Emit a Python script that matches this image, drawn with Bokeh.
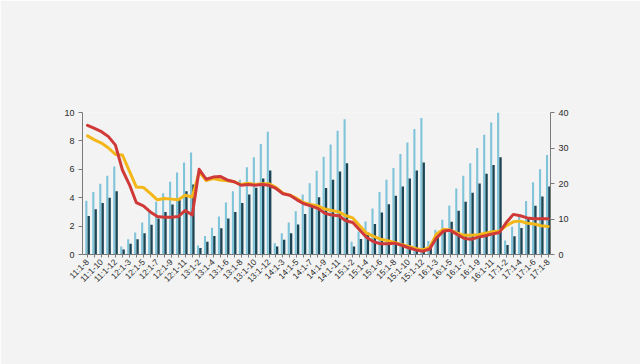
import numpy as np
from math import pi
from bokeh.plotting import figure
from bokeh.models import Range1d, LinearAxis, FixedTicker
from bokeh.embed import file_html
from bokeh.resources import INLINE

labels = [
    "11:1-8", "11:1-9", "11:1-10", "11:1-11", "11:1-12",
    "12:1-2", "12:1-3", "12:1-4", "12:1-5", "12:1-6", "12:1-7", "12:1-8", "12:1-9", "12:1-10", "12:1-11", "12:1-12",
    "13:1-2", "13:1-3", "13:1-4", "13:1-5", "13:1-6", "13:1-7", "13:1-8", "13:1-9", "13:1-10", "13:1-11", "13:1-12",
    "14:1-2", "14:1-3", "14:1-4", "14:1-5", "14:1-6", "14:1-7", "14:1-8", "14:1-9", "14:1-10", "14:1-11", "14:1-12",
    "15:1-2", "15:1-3", "15:1-4", "15:1-5", "15:1-6", "15:1-7", "15:1-8", "15:1-9", "15:1-10", "15:1-11", "15:1-12",
    "16:1-2", "16:1-3", "16:1-4", "16:1-5", "16:1-6", "16:1-7", "16:1-8", "16:1-9", "16:1-10", "16:1-11", "16:1-12",
    "17:1-2", "17:1-3", "17:1-4", "17:1-5", "17:1-6", "17:1-7", "17:1-8",
]

total_inv = [
    3.78, 4.41, 4.98, 5.54, 6.20,
    0.56, 1.08, 1.55, 2.25, 3.00, 3.71, 4.32, 5.12, 5.77, 6.48, 7.18,
    0.63, 1.31, 1.88, 2.68, 3.66, 4.46, 5.26, 6.15, 6.85, 7.79, 8.64,
    0.80, 1.50, 2.25, 3.05, 4.23, 5.02, 5.89, 6.88, 7.75, 8.71, 9.53,
    0.89, 1.62, 2.33, 3.24, 4.41, 5.26, 6.10, 7.07, 7.89, 8.83, 9.62,
    0.95, 1.75, 2.45, 3.45, 4.65, 5.55, 6.43, 7.50, 8.43, 9.30, 10.05,
    0.98, 1.95, 2.75, 3.77, 5.08, 6.00, 7.00,
]

resid_inv = [
    2.72, 3.19, 3.62, 3.99, 4.46,
    0.35, 0.75, 1.08, 1.50, 2.10, 2.54, 3.00, 3.52, 3.85, 4.46, 4.93,
    0.46, 0.89, 1.31, 1.85, 2.54, 3.00, 3.62, 4.23, 4.70, 5.35, 5.92,
    0.56, 1.03, 1.50, 2.11, 2.86, 3.43, 4.04, 4.69, 5.26, 5.85, 6.43,
    0.56, 1.10, 1.55, 2.14, 2.96, 3.54, 4.13, 4.79, 5.35, 5.92, 6.48,
    0.60, 1.18, 1.62, 2.30, 3.08, 3.72, 4.34, 5.00, 5.68, 6.30, 6.85,
    0.67, 1.29, 1.87, 2.50, 3.44, 4.08, 4.78,
]

total_growth = [
    33.4, 32.3, 31.4, 30.0, 28.2,
    28.0, 23.5, 19.0, 18.9, 17.2, 15.4, 15.8, 15.6, 15.4, 16.7, 16.2,
    23.3, 20.8, 21.4, 21.0, 20.8, 20.5, 19.7, 20.1, 19.7, 19.9, 19.9,
    18.9, 17.3, 16.7, 15.8, 14.6, 14.1, 13.7, 12.8, 12.4, 12.0, 10.9,
    10.3, 8.1, 6.0, 5.1, 4.3, 3.9, 3.4, 2.8, 2.3, 1.7, 1.3,
    2.0, 5.8, 7.1, 6.9, 6.0, 5.4, 5.4, 5.6, 6.0, 6.4, 6.6,
    8.1, 9.2, 9.4, 8.8, 8.6, 8.1, 7.9,
]

resid_growth = [
    36.4, 35.5, 34.6, 33.2, 30.8,
    23.8, 19.7, 14.6, 13.7, 12.0, 10.7, 10.5, 10.5, 10.7, 12.4, 11.1,
    24.0, 21.2, 21.8, 22.0, 21.0, 20.5, 19.5, 19.7, 19.5, 19.7, 19.5,
    18.6, 17.1, 16.7, 15.4, 14.3, 13.7, 13.0, 11.6, 11.1, 10.9, 9.5,
    9.0, 6.9, 4.8, 3.6, 3.0, 3.0, 3.2, 2.6, 1.9, 1.3, 0.9,
    1.5, 4.7, 6.6, 6.8, 5.6, 4.5, 4.3, 4.9, 5.3, 5.8, 6.2,
    9.0, 11.3, 10.9, 10.3, 10.1, 10.1, 10.1,
]

left_ticks = [0, 2, 4, 6, 8, 10]
right_ticks = [0, 10, 20, 30, 40]

x = np.arange(len(labels))
BG = "#f3f3f3"
AXIS = "#7a7a7a"
TXT = "#2a2a2a"
FONT = "Liberation Sans"

p = figure(width=640, height=364, output_backend="svg", toolbar_location=None,
           x_range=Range1d(-0.72, 66.33), y_range=Range1d(0, 10),
           min_border_left=82, min_border_right=90, min_border_top=112,
           min_border_bottom=110, y_axis_location=None)
p.extra_y_ranges = {"pct": Range1d(0, 40)}
p.background_fill_color = BG
p.border_fill_color = BG
p.outline_line_color = None
p.xgrid.visible = False
p.ygrid.visible = False

p.vbar(x=x - 0.17, top=total_inv, width=0.30, fill_color="#7fc4d9", line_color=None)
p.vbar(x=x + 0.17, top=resid_inv, width=0.34, fill_color="#1b4555", line_color=None)
p.line(x, total_growth, y_range_name="pct", line_color="#f4b71a", line_width=3,
       line_join="round", line_cap="round")
p.line(x, resid_growth, y_range_name="pct", line_color="#cf3a38", line_width=3,
       line_join="round", line_cap="round")

left = LinearAxis(ticker=FixedTicker(ticks=left_ticks))
right = LinearAxis(y_range_name="pct", ticker=FixedTicker(ticks=right_ticks))
for ax in (left, right):
    ax.axis_line_color = AXIS
    ax.major_tick_line_color = AXIS
    ax.major_tick_out = 4
    ax.major_tick_in = 0
    ax.minor_tick_line_color = None
    ax.major_label_text_font = FONT
    ax.major_label_text_font_size = "9px"
    ax.major_label_text_color = TXT
    ax.major_label_standoff = 4
p.add_layout(left, "left")
p.add_layout(right, "right")

xa = p.xaxis[0]
xa.ticker = FixedTicker(ticks=list(range(len(labels))))
xa.major_label_overrides = {int(i): (labels[i] if i % 2 == 0 else "") for i in range(len(labels))}
xa.major_label_orientation = pi / 4
xa.axis_line_color = AXIS
xa.major_tick_line_color = AXIS
xa.major_tick_out = 3
xa.major_tick_in = 0
xa.minor_tick_line_color = None
xa.major_label_text_font = FONT
xa.major_label_text_font_size = "8.5px"
xa.major_label_text_color = TXT
xa.major_label_standoff = 3

open("out.html", "w").write(file_html(p, INLINE))
